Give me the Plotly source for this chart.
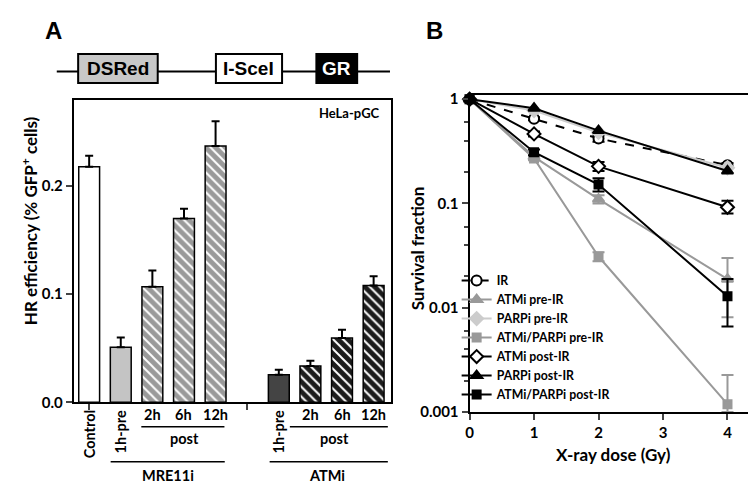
import plotly.graph_objects as go

W, H = 756, 486
FONT = "Lato"

def px(p):
    return p / W

def py(p):
    return 1 - p / H

# ---------------- Panel A data ----------------
hr_labels = ["Control", "1h-pre", "2h", "6h", "12h", "1h-pre", "2h", "6h", "12h"]
hr_groups = ["Control", "MRE11i", "MRE11i", "MRE11i", "MRE11i", "ATMi", "ATMi", "ATMi", "ATMi"]
hr_values = [0.218, 0.051, 0.107, 0.170, 0.237, 0.0255, 0.0335, 0.0595, 0.108]
hr_err = [0.010, 0.009, 0.015, 0.009, 0.023, 0.0045, 0.005, 0.0075, 0.0085]
hr_colors = ["#ffffff", "#c4c4c4", "#9a9a9a", "#9a9a9a", "#9a9a9a", "#444444", "#1c1c1c", "#1c1c1c", "#1c1c1c"]
hr_patterns = ["", "", "\\", "\\", "\\", "", "\\", "\\", "\\"]

# slot positions: one empty slot between the MRE11i and ATMi groups
slots = []
s = 0
prev = None
for g in hr_groups:
    if prev is not None and g != prev and g == "ATMi":
        s += 1
    slots.append(s)
    s += 1
    prev = g
gap_slot = slots[5] - 1

# ---------------- Panel B data ----------------
doses = [0, 1, 2, 4]
surv_IR = [1.0, 0.65, 0.42, 0.233]
surv_ATMi_pre = [1.0, 0.28, 0.11, 0.0188]
surv_PARPi_pre = [1.0, 0.78, 0.48, 0.22]
surv_ATMiPARPi_pre = [1.0, 0.27, 0.031, 0.00119]
surv_ATMi_post = [1.0, 0.465, 0.227, 0.092]
surv_PARPi_post = [1.0, 0.82, 0.50, 0.205]
surv_ATMiPARPi_post = [1.0, 0.31, 0.152, 0.0129]

# error bar ends (upper, lower) in survival units
err_hi_IR = [1.0, 0.67, 0.45, 0.245]
err_lo_IR = [1.0, 0.63, 0.39, 0.222]
err_hi_ATMi_pre = [1.0, 0.29, 0.12, 0.030]
err_lo_ATMi_pre = [1.0, 0.27, 0.10, 0.0081]
err_hi_ATMiPARPi_pre = [1.0, 0.28, 0.034, 0.00227]
err_lo_ATMiPARPi_pre = [1.0, 0.26, 0.028, 0.001]
err_hi_ATMi_post = [1.0, 0.49, 0.25, 0.106]
err_lo_ATMi_post = [1.0, 0.44, 0.205, 0.080]
err_hi_ATMiPARPi_post = [1.0, 0.33, 0.175, 0.0189]
err_lo_ATMiPARPi_post = [1.0, 0.29, 0.130, 0.0066]

fig = go.Figure()

# ---- bars: one trace per fill style ----
styles = []
for c, p in zip(hr_colors, hr_patterns):
    if (c, p) not in styles:
        styles.append((c, p))
for c, p in styles:
    idx = [i for i in range(len(hr_values)) if hr_colors[i] == c and hr_patterns[i] == p]
    pattern = dict(shape=p, fgcolor="white", bgcolor=c, size=7, solidity=0.28, fillmode="replace") if p else None
    fig.add_trace(go.Bar(
        x=[slots[i] for i in idx], y=[hr_values[i] for i in idx], width=0.66,
        marker=dict(color=c, line=dict(color="black", width=1.5), pattern=pattern),
        error_y=dict(type="data", symmetric=False, array=[hr_err[i] for i in idx],
                     arrayminus=[0] * len(idx), color="black", thickness=2, width=4),
        xaxis="x", yaxis="y", showlegend=False,
    ))

# ---- survival curves ----
def diff_up(hi, v):
    return [a - b for a, b in zip(hi, v)]

def diff_dn(lo, v):
    return [b - a for a, b in zip(lo, v)]

series = [
    ("IR", surv_IR, err_hi_IR, err_lo_IR, "black", "dash", "circle", "white", "black", 10),
    ("ATMi pre-IR", surv_ATMi_pre, err_hi_ATMi_pre, err_lo_ATMi_pre, "#999999", "solid", "triangle-up", "#999999", "#999999", 10),
    ("PARPi pre-IR", surv_PARPi_pre, None, None, "#cccccc", "solid", "diamond", "#cccccc", "#cccccc", 10),
    ("ATMi/PARPi pre-IR", surv_ATMiPARPi_pre, err_hi_ATMiPARPi_pre, err_lo_ATMiPARPi_pre, "#999999", "solid", "square", "#999999", "#999999", 8),
    ("ATMi post-IR", surv_ATMi_post, err_hi_ATMi_post, err_lo_ATMi_post, "black", "solid", "diamond", "white", "black", 10),
    ("PARPi post-IR", surv_PARPi_post, None, None, "black", "solid", "triangle-up", "black", "black", 10),
    ("ATMi/PARPi post-IR", surv_ATMiPARPi_post, err_hi_ATMiPARPi_post, err_lo_ATMiPARPi_post, "black", "solid", "square", "black", "black", 8),
]

for name, vals, hi, lo, lc, dash, sym, fill, outline, size in series:
    err = None
    if hi is not None:
        err = dict(type="data", symmetric=False, array=diff_up(hi, vals), arrayminus=diff_dn(lo, vals),
                   color=lc, thickness=2, width=6)
    fig.add_trace(go.Scatter(
        x=doses, y=vals, name=name, mode="lines+markers",
        line=dict(color=lc, width=2, dash=dash),
        marker=dict(symbol=sym, size=size, color=fill, line=dict(color=outline, width=2)),
        error_y=err, xaxis="x2", yaxis="y2", cliponaxis=False,
    ))

tickfont = dict(family=FONT, size=15, color="black", weight="bold")

fig.update_layout(
    width=W, height=H, margin=dict(l=0, r=0, t=0, b=0),
    paper_bgcolor="white", plot_bgcolor="white",
    font=dict(family=FONT, color="black", weight="bold"),
    barmode="overlay",
    xaxis=dict(domain=[px(62), px(380.7)], range=[-0.49, 9.54], showline=True, linecolor="black", linewidth=2,
               mirror=True, tickvals=[slots[0], gap_slot], ticks="outside", ticklen=6, tickwidth=2,
               showticklabels=False, showgrid=False, zeroline=False, anchor="y"),
    yaxis=dict(domain=[py(400), py(89)], range=[0, 0.28], showline=True, linecolor="black", linewidth=2,
               mirror=True, tickvals=[0, 0.1, 0.2], ticktext=["0.0", "0.1", "0.2"], ticks="outside",
               ticklen=6, tickwidth=2, tickfont=tickfont, showgrid=False, zeroline=False, anchor="x"),
    xaxis2=dict(domain=[px(460), px(751.7)], range=[0, 4.5], showline=True, linecolor="black", linewidth=2,
                mirror=True, tickvals=[0, 1, 2, 3, 4], ticks="outside", ticklen=6, tickwidth=2,
                tickfont=tickfont, showgrid=False, zeroline=False, anchor="y2"),
    yaxis2=dict(domain=[py(410), py(84.3)], type="log", range=[-3, 0.04], showline=True, linecolor="black",
                linewidth=2, mirror=True, tickvals=[0.001, 0.01, 0.1, 1], ticktext=["0.001", "0.01", "0.1", "1"],
                ticks="outside", ticklen=6, tickwidth=2, tickfont=tickfont, showgrid=False, zeroline=False,
                anchor="x2",
                minor=dict(tickmode="array",
                           tickvals=[m * d for d in [0.001, 0.01, 0.1] for m in (2, 4, 6)],
                           ticks="outside", ticklen=4, tickwidth=1.5, showgrid=False)),
    legend=dict(x=px(447), y=py(260), xanchor="left", yanchor="top", bgcolor="rgba(0,0,0,0)",
                font=dict(family=FONT, size=12.3, color="black", weight="bold"), tracegroupgap=0),
)

# ---- schematic (construct diagram) ----
shapes = [dict(type="line", xref="paper", yref="paper", x0=px(45), x1=px(380), y0=py(60), y1=py(60),
               line=dict(color="black", width=2))]
boxes = [("DSRed", 66.5, 146.5, "#c8c8c8", "black"),
         ("I-SceI", 205, 271.5, "white", "black"),
         ("GR", 306, 347, "black", "white")]
annotations = []
for txt, x0, x1, fill, tc in boxes:
    shapes.append(dict(type="rect", xref="paper", yref="paper", x0=px(x0), x1=px(x1), y0=py(72), y1=py(42),
                       fillcolor=fill, line=dict(color="black", width=2)))
    annotations.append(dict(text=txt, xref="paper", yref="paper", x=px((x0 + x1) / 2), y=py(57.5),
                            xanchor="center", yanchor="middle",
                            showarrow=False, font=dict(family="Liberation Sans", size=19, color=tc, weight="bold")))

# ---- panel A category labels ----
lab_font = dict(family=FONT, size=14.5, color="black", weight="bold")
for lab, sl in zip(hr_labels, slots):
    if lab in ("Control", "1h-pre"):
        annotations.append(dict(text=lab, xref="x", yref="paper", x=sl, y=py(406), xanchor="center",
                                yanchor="top", textangle=-90, showarrow=False, font=lab_font))
    else:
        annotations.append(dict(text=lab, xref="x", yref="paper", x=sl, y=py(413), xanchor="center",
                                yanchor="middle", showarrow=False, font=lab_font))

# group bars / texts
brackets = [((1.65, 4.28), 425, "post", 3.03, 437),
            ((6.35, 9.45), 425, "post", 7.75, 437),
            ((0.68, 4.29), 461, "MRE11i", 2.5, 475),
            ((5.71, 9.45), 461, "ATMi", 7.53, 475)]
for (a, b), yline, txt, xt, yt in brackets:
    shapes.append(dict(type="line", xref="x", yref="paper", x0=a, x1=b, y0=py(yline), y1=py(yline),
                       line=dict(color="black", width=1.5)))
    annotations.append(dict(text=txt, xref="x", yref="paper", x=xt, y=py(yt), xanchor="center",
                            yanchor="middle", showarrow=False, font=lab_font))

# titles and panel letters
def ann(text, x, y, size, angle=0, family=FONT):
    return dict(text=text, xref="paper", yref="paper", x=px(x), y=py(y), xanchor="center", yanchor="middle",
                textangle=angle, showarrow=False, font=dict(family=family, size=size, color="black", weight="bold"))

annotations += [
    ann("HR efficiency (% GFP<sup>+</sup> cells)", 17, 213, 17, -90),
    ann("HeLa-pGC", 339, 103, 13),
    ann("Survival fraction", 408, 242, 17, -90),
    ann("X-ray dose (Gy)", 605, 454, 17),
    ann("A", 42, 18, 24, 0, "Liberation Sans"),
    ann("B", 425, 18, 24, 0, "Liberation Sans"),
]

fig.update_layout(shapes=shapes, annotations=annotations)
fig.write_html("out.html")
